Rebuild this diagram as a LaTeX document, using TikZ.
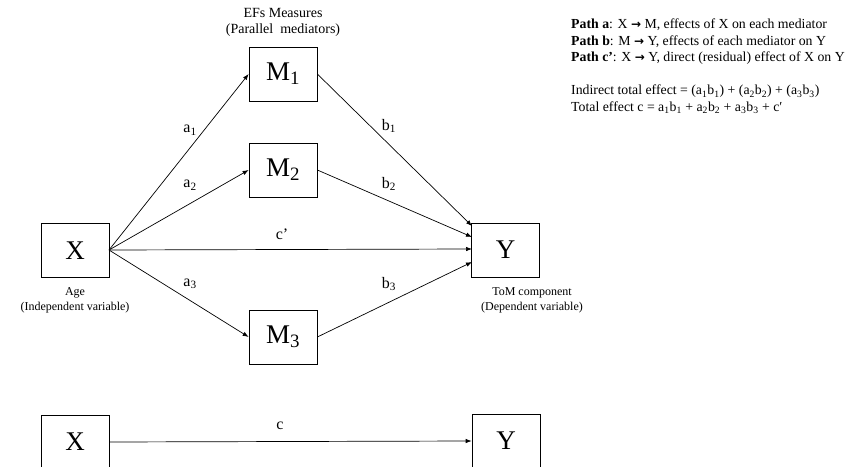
\documentclass[tikz,border=0pt]{standalone}
\usepackage{fontspec}
\setmainfont{Liberation Serif}
\newfontfamily\arrowfont{DejaVu Sans}
\usetikzlibrary{arrows.meta}
\newcommand{\rar}{{\arrowfont\bfseries\fontsize{12}{12}\selectfont →}}
\newcommand{\sbs}[1]{\textsubscript{#1}}
\begin{document}
\begin{tikzpicture}[x=1pt,y=-1pt,
  box/.style={draw,line width=0.7pt,minimum width=68pt,minimum height=54pt,inner sep=0pt,font=\fontsize{27}{30}\selectfont},
  arr/.style={line width=0.7pt,-{Latex[length=6pt,width=4.5pt]}},
  lbl/.style={font=\fontsize{16}{18}\selectfont,inner sep=0pt},
  captext/.style={font=\fontsize{12}{15}\selectfont,align=center,inner sep=0pt},
  note/.style={font=\fontsize{13.8}{16.5}\selectfont,align=left,anchor=north west,inner sep=0pt}]
\useasboundingbox (0,0) rectangle (857,466);
\node[box] (X) at (75,250.5) {X};
\node[box] (Y) at (505.5,250) {Y};
\node[box] (M1) at (283,74) {M\sbs{1}};
\node[box] (M2) at (283,170) {M\sbs{2}};
\node[box] (M3) at (283,337) {M\sbs{3}};
\node[captext,font=\fontsize{14}{16}\selectfont] (ef) at (283,22) {EFs Measures\\(Parallel\ \ mediators)};
\node[captext] (age) at (75,300) {Age\\(Independent variable)};
\node[captext] (tom) at (532,300) {ToM component\\(Dependent variable)};
\coordinate (xo) at (109,250);
\draw[arr] (xo) -- (M1.west);
\draw[arr] (xo) -- (M2.west);
\draw[arr] (xo) -- (M3.west);
\draw[arr] (xo) -- (472,249) coordinate (yc);
\draw[arr] (M1.east) -- (472,226) coordinate (y1);
\draw[arr] (M2.east) -- (472,237) coordinate (y2);
\draw[arr] (M3.east) -- (472,262) coordinate (y3);
\node[lbl] (la1) at (190,130) {a\sbs{1}};
\node[lbl] (la2) at (190,185) {a\sbs{2}};
\node[lbl] (la3) at (190,284) {a\sbs{3}};
\node[lbl] (lb1) at (389,126) {b\sbs{1}};
\node[lbl] (lb2) at (389,184) {b\sbs{2}};
\node[lbl] (lb3) at (389,284) {b\sbs{3}};
\node[lbl] (lc) at (282,234) {c’};
% total effect model
\node[box] (X2) at (75,442) {X};
\node[box] (Y2) at (506,441) {Y};
\draw[arr] (X2.east) -- (Y2.west);
\node[lbl] (lc2) at (280,426) {c};
% notes
\node[note] (n1) at (571,19) {\textbf{Path a}: X \rar{} M, effects of X on each mediator\\
\textbf{Path b}: M \rar{} Y, effects of each mediator on Y\\
\textbf{Path c’}: X \rar{} Y, direct (residual) effect of X on Y};
\node[note] (n2) at (571,85) {Indirect total effect = (a\sbs{1}b\sbs{1}) + (a\sbs{2}b\sbs{2}) + (a\sbs{3}b\sbs{3})\\
Total effect c = a\sbs{1}b\sbs{1} + a\sbs{2}b\sbs{2} + a\sbs{3}b\sbs{3} + c′};
\end{tikzpicture}
\end{document}
